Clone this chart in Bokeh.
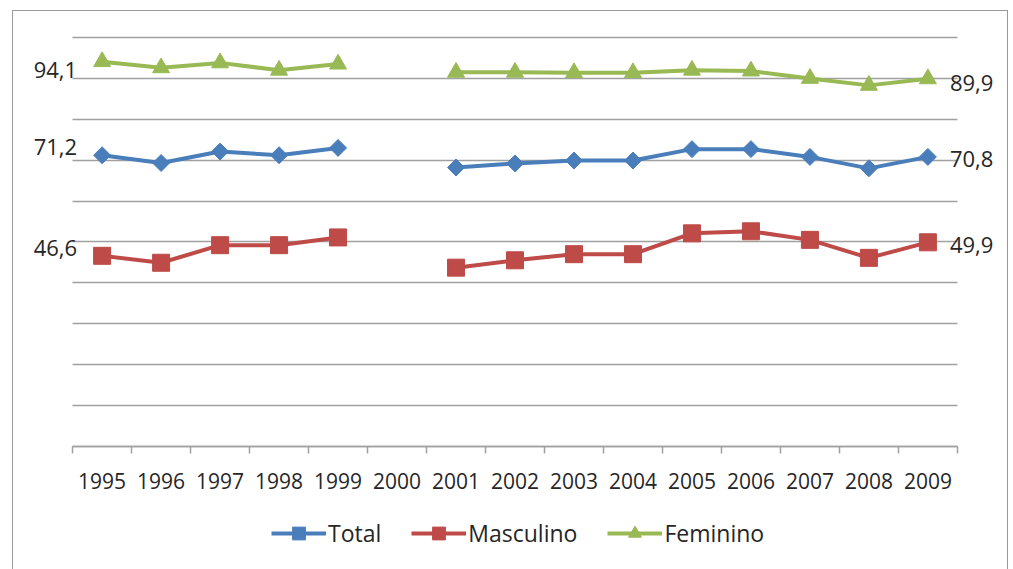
import math
from bokeh.plotting import figure
from bokeh.models import (Range1d, FixedTicker, Legend, LegendItem, Label,
                          ColumnDataSource)
from bokeh.embed import file_html
from bokeh.resources import INLINE

nan = float("nan")

years = [1995, 1996, 1997, 1998, 1999, 2000, 2001, 2002, 2003, 2004,
         2005, 2006, 2007, 2008, 2009]
total = [71.2, 69.3, 72.1, 71.2, 73.0, nan, 68.2, 69.2, 69.9, 69.9,
         72.7, 72.7, 70.8, 68.0, 70.8]
masculino = [46.6, 44.9, 49.2, 49.2, 51.1, nan, 43.7, 45.5, 47.0, 47.0,
             52.1, 52.6, 50.5, 46.1, 49.9]
feminino = [94.1, 92.6, 93.8, 92.0, 93.5, nan, 91.5, 91.5, 91.4, 91.4,
            92.0, 91.8, 90.0, 88.3, 89.9]
grid_values = [0, 10, 20, 30, 40, 50, 60, 70, 80, 90, 100]

FONT = "Open Sans"
TEXT = "#262626"
GRID = "#a0a0a0"

# canvas and plotting-area geometry (pixels)
W, H = 994, 558                 # drawing canvas inside the 1px frame border
AREA_L, AREA_R = 59, 942        # x extent of the gridded area
AREA_T, AREA_B = 26, 434        # y of the 100 line and of the 0 line

x_lo, x_hi = years[0] - 0.5, years[-1] + 0.5
xppu = (AREA_R - AREA_L) / (x_hi - x_lo)
yppu = (AREA_B - AREA_T) / 100.0
x_range = Range1d(x_lo - AREA_L / xppu, x_hi + (W - AREA_R) / xppu)
y_range = Range1d(-(H - AREA_B) / yppu, 100 + AREA_T / yppu)

p = figure(width=W + 2, height=H + 1, output_backend="svg", toolbar_location=None,
           x_range=x_range, y_range=y_range,
           min_border_left=0, min_border_right=0, min_border_top=0,
           min_border_bottom=0)
p.margin = (10, 0, 0, 12)
p.styles = {"border": "1px solid #9a9a9a", "border-bottom": "none",
            "box-sizing": "border-box"}
p.outline_line_color = None
p.background_fill_color = "white"
p.border_fill_color = "white"

# horizontal gridlines across the gridded area only
p.yaxis.visible = False
p.ygrid.ticker = FixedTicker(ticks=grid_values)
p.ygrid.cross_bounds = (x_lo, x_hi)
p.ygrid.grid_line_color = GRID
p.ygrid.grid_line_width = 1.5
p.xgrid.visible = False

# category axis: year labels, tick marks between the years
xa = p.xaxis[0]
xa.fixed_location = 0
xa.bounds = (x_lo, x_hi)
xa.ticker = FixedTicker(ticks=years,
                        minor_ticks=[y - 0.5 for y in years] + [x_hi])
xa.major_tick_out = 0
xa.major_tick_in = 0
xa.minor_tick_out = 7
xa.minor_tick_in = 0
xa.minor_tick_line_color = GRID
xa.minor_tick_line_width = 1.5
xa.axis_line_color = GRID
xa.axis_line_width = 1.5
xa.major_label_text_font = FONT
xa.major_label_text_font_size = "21px"
xa.major_label_text_color = TEXT
xa.major_label_standoff = 20

src = ColumnDataSource(dict(x=years, total=total, masculino=masculino,
                            feminino=feminino))

series = [
    ("Total", "total", "#4a7ebb", dict(marker="square", angle=math.pi / 4, size=12)),
    ("Masculino", "masculino", "#be4b48", dict(marker="square", size=17)),
    ("Feminino", "feminino", "#98b954", dict(marker="triangle", size=17)),
]

items = []
for name, col, color, mk in series:
    lr = p.line("x", col, source=src, line_color=color, line_width=4)
    sr = p.scatter("x", col, source=src, fill_color=color, line_color=color, **mk)
    items.append(LegendItem(label=name, renderers=[lr, sr]))

legend = Legend(items=items, orientation="horizontal", location=(258, 21),
                glyph_width=55, glyph_height=32, label_standoff=2, spacing=30,
                label_text_font=FONT, label_text_font_size="23px",
                label_text_color=TEXT, border_line_color=None,
                background_fill_alpha=0, margin=0, padding=4)
p.add_layout(legend)

# value labels at the first and last year
def fmt(v):
    return f"{v:.1f}".replace(".", ",")

left_dy = {"total": 8, "masculino": 8, "feminino": -8}
right_dy = {"total": -2, "masculino": -3, "feminino": -4}
for name, col, color, mk in series:
    vals = src.data[col]
    p.add_layout(Label(x=years[0], y=vals[0], text=fmt(vals[0]), x_offset=-25,
                       y_offset=left_dy[col], text_align="right",
                       text_baseline="middle", text_font=FONT,
                       text_font_size="22px", text_color=TEXT))
    p.add_layout(Label(x=years[-1], y=vals[-1], text=fmt(vals[-1]), x_offset=22,
                       y_offset=right_dy[col], text_align="left",
                       text_baseline="middle", text_font=FONT,
                       text_font_size="22px", text_color=TEXT))

open("out.html", "w").write(file_html(p, INLINE))
